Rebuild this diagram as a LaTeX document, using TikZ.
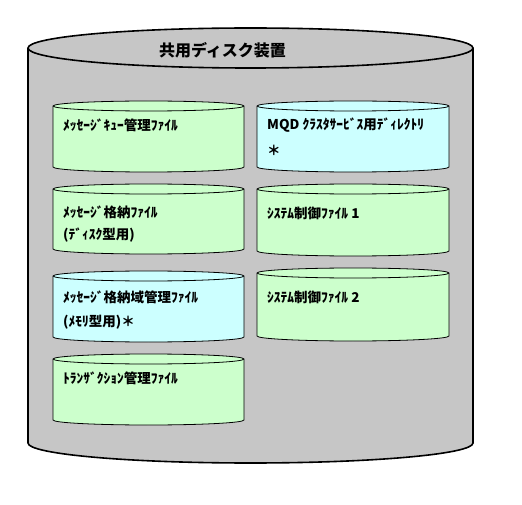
\documentclass[tikz,border=0pt]{standalone}
\usepackage{fontspec}
\newfontfamily\jp{Noto Sans CJK JP}
\definecolor{diskgray}{HTML}{C6C6C6}
\definecolor{filegreen}{HTML}{CCFFCC}
\definecolor{filecyan}{HTML}{CCFFFF}
\tikzset{
  lbl/.style={anchor=west, inner sep=0pt, font=\jp\bfseries\fontsize{13.5}{15}\selectfont},
  ttl/.style={inner sep=0pt, font=\jp\bfseries\fontsize{16}{18}\selectfont},
}
% cylinder: #1 style, #2 x left, #3 x right, #4 y top, #5 y bottom, #6 ry
\newcommand{\cyl}[6]{%
  \pgfmathsetmacro{\rxx}{(#3-#2)/2}%
  \filldraw[#1] (#2,-#4) -- (#2,-#5) arc[start angle=180,end angle=360,x radius=\rxx,y radius=#6]
     -- (#3,-#4) arc[start angle=0,end angle=180,x radius=\rxx,y radius=#6] -- cycle;
  \draw[#1,fill=none] (#2,-#4) arc[start angle=180,end angle=360,x radius=\rxx,y radius=#6];
}
\begin{document}
\begin{tikzpicture}[x=1pt,y=1pt]
\useasboundingbox (0,0) rectangle (522,-505);
\fill[white] (0,0) rectangle (522,-505);
\cyl{draw=black,line width=1.6pt,fill=diskgray}{28}{473}{48}{443}{20}
\node[ttl] (title) at (222.5,-50) {共用ディスク装置};
% left column
\cyl{draw=black,line width=0.8pt,fill=filegreen}{53}{244}{106}{167}{5}
\cyl{draw=black,line width=0.8pt,fill=filegreen}{53}{244}{189}{249}{5}
\cyl{draw=black,line width=0.8pt,fill=filecyan}{53}{244}{276}{337}{5}
\cyl{draw=black,line width=0.8pt,fill=filegreen}{53}{244}{359}{420}{5}
% right column
\cyl{draw=black,line width=0.8pt,fill=filecyan}{257}{449}{106}{167}{5}
\cyl{draw=black,line width=0.8pt,fill=filegreen}{257}{449}{189}{251}{5}
\cyl{draw=black,line width=0.8pt,fill=filegreen}{257}{449}{273}{336}{5}
% labels
\node[lbl] (l1) at (63,-125) {ﾒｯｾｰｼﾞｷｭｰ管理ﾌｧｲﾙ};
\node[lbl] (l2a) at (63,-212) {ﾒｯｾｰｼﾞ格納ﾌｧｲﾙ};
\node[lbl] (l2b) at (63,-235) {(ﾃﾞｨｽｸ型用)};
\node[lbl] (l3a) at (63,-297) {ﾒｯｾｰｼﾞ格納域管理ﾌｧｲﾙ};
\node[lbl] (l3b) at (63,-322) {(ﾒﾓﾘ型用)＊};
\node[lbl] (l4) at (63,-378) {ﾄﾗﾝｻﾞｸｼｮﾝ管理ﾌｧｲﾙ};
\node[lbl] (r1a) at (267,-125) {MQD ｸﾗｽﾀｻｰﾋﾞｽ用ﾃﾞｨﾚｸﾄﾘ};
\node[lbl] (r1b) at (267,-150) {＊};
\node[lbl] (r2) at (267,-213) {ｼｽﾃﾑ制御ﾌｧｲﾙ 1};
\node[lbl] (r3) at (267,-297) {ｼｽﾃﾑ制御ﾌｧｲﾙ 2};
\end{tikzpicture}
\end{document}
